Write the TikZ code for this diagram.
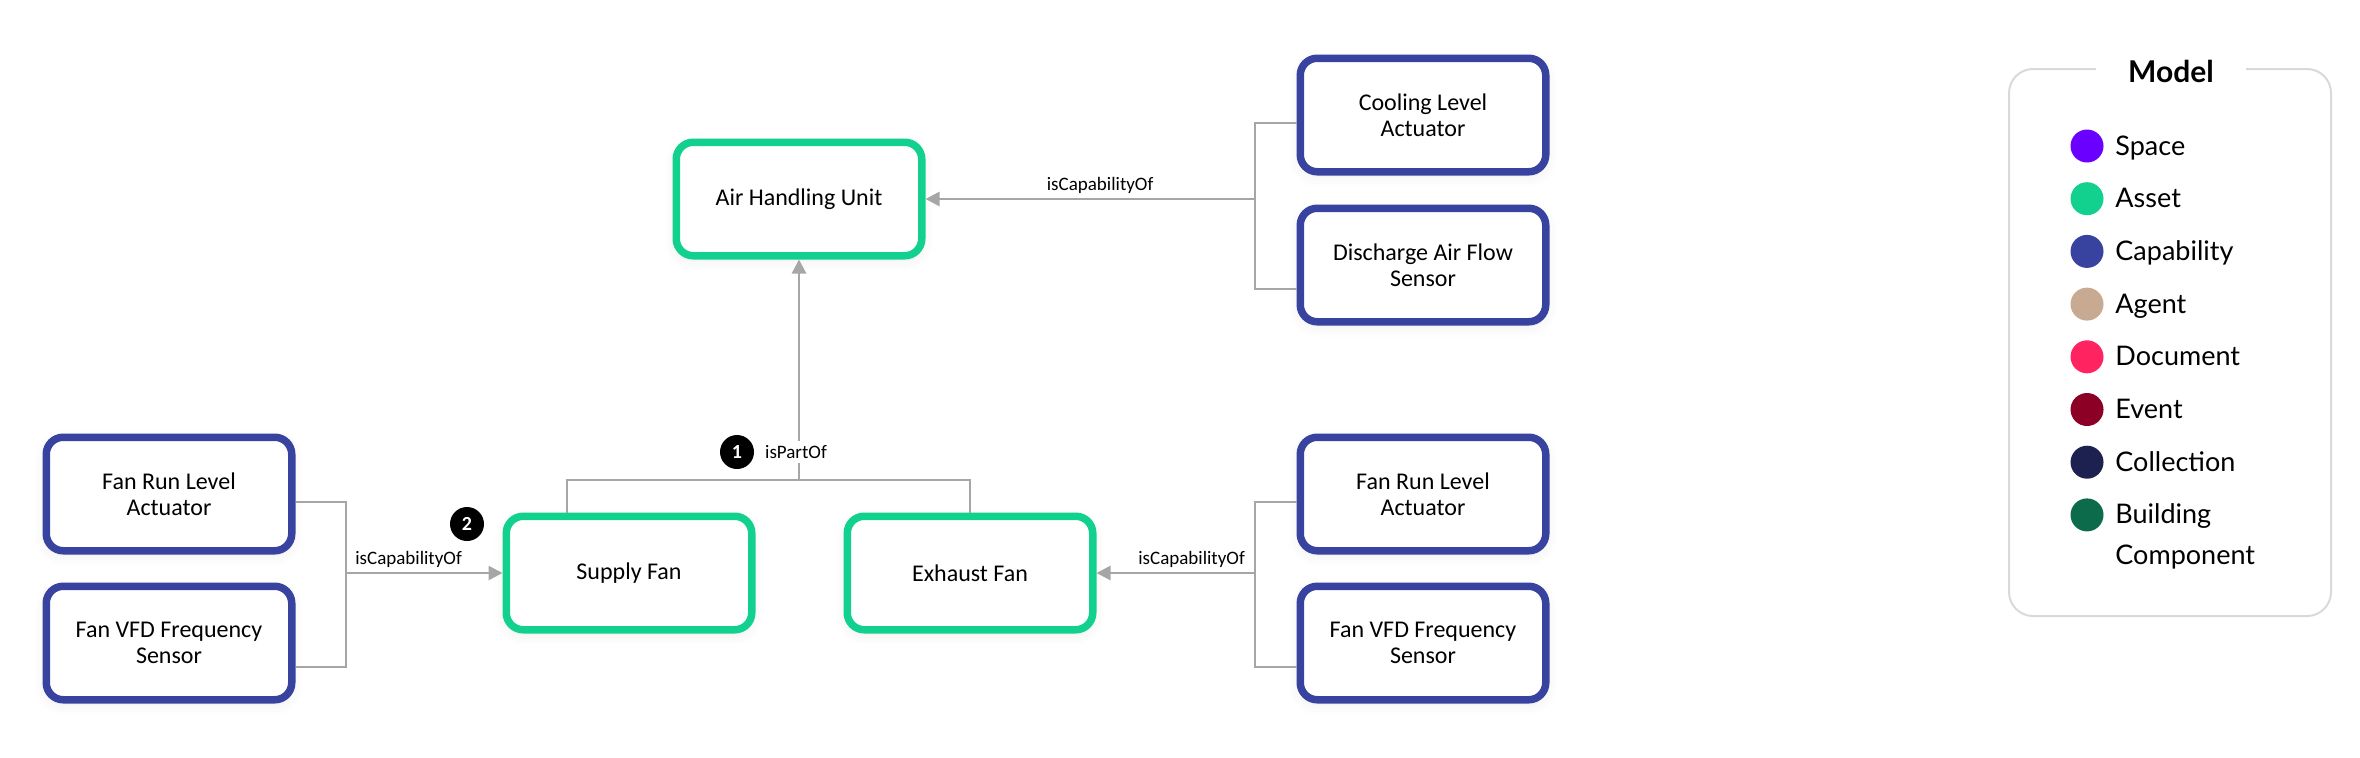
\documentclass[tikz,border=0pt]{standalone}
\usepackage{fontspec}
\setmainfont{Carlito}
\newfontfamily\legendfont{Lato}
\usetikzlibrary{arrows.meta,calc,shadows.blur}

\definecolor{assetgreen}{HTML}{12D18E}
\definecolor{capblue}{HTML}{3843A0}
\definecolor{linkgray}{HTML}{A6A6A6}
\definecolor{legborder}{HTML}{D9D9D9}
\definecolor{cspace}{HTML}{6A00FF}
\definecolor{cagent}{HTML}{C8AA93}
\definecolor{cdoc}{HTML}{FF2460}
\definecolor{cevent}{HTML}{8C0026}
\definecolor{ccoll}{HTML}{1C2150}
\definecolor{cbuild}{HTML}{0B6B4A}

\tikzset{
  box/.style={draw,fill=white,rounded corners=8.5pt,line width=3.75pt,
    minimum width=122.75pt,minimum height=56.75pt,inner sep=0pt,align=center,
    font=\fontsize{12}{13}\selectfont,
    blur shadow={shadow xshift=0pt,shadow yshift=-2pt,shadow blur radius=6pt,shadow opacity=8}},
  asset/.style={box,draw=assetgreen},
  capab/.style={box,draw=capblue},
  link/.style={draw=linkgray,line width=1.35pt},
  arr/.style={link,-{Triangle[length=7pt,width=7pt]}},
  rel/.style={font=\fontsize{9.5}{11}\selectfont,inner sep=2pt},
  badge/.style={circle,fill=black,text=white,minimum size=17pt,inner sep=0pt,
    font=\bfseries\fontsize{10}{10}\selectfont},
  dot/.style={circle,minimum size=16.5pt,inner sep=0pt},
  legtext/.style={anchor=base west,inner sep=0pt,font=\legendfont\fontsize{13.5}{15}\selectfont}
}

\begin{document}
\begin{tikzpicture}[x=0.5pt,y=-0.5pt]
  \useasboundingbox (0,0) rectangle (2360,757);

  % assets and capabilities
  \node[asset] (ahu)  at ( 799,199) {Air Handling Unit};
  \node[capab] (cool) at (1423,115) {Cooling Level\\Actuator};
  \node[capab] (dis)  at (1423,265) {Discharge Air Flow\\Sensor};
  \node[asset] (sfan) at ( 629,573) {Supply Fan};
  \node[asset] (efan) at ( 970,573) {Exhaust Fan};
  \node[capab] (lrun) at ( 169,494) {Fan Run Level\\Actuator};
  \node[capab] (lvfd) at ( 169,643) {Fan VFD Frequency\\Sensor};
  \node[capab] (rrun) at (1423,494) {Fan Run Level\\Actuator};
  \node[capab] (rvfd) at (1423,643) {Fan VFD Frequency\\Sensor};

  % relations
  \coordinate (tr) at (1255,199);
  \coordinate (lb) at ( 346,573);
  \coordinate (rb) at (1255,573);
  \coordinate (bar) at (799,480);

  \draw[link] ($(cool.west)+(0,8)$) -| (tr) |- ($(dis.west)+(0,24)$);
  \draw[arr] (tr) -- (ahu.east) node[rel,above,pos=0.47] {isCapabilityOf};

  \draw[link] ($(lrun.east)+(0,8)$) -| (lb) |- ($(lvfd.east)+(0,24)$);
  \draw[arr] (lb) -- (sfan.west) node[rel,above,pos=0.4] {isCapabilityOf};

  \draw[link] ($(rrun.west)+(0,8)$) -| (rb) |- ($(rvfd.west)+(0,24)$);
  \draw[arr] (rb) -- (efan.east) node[rel,above,pos=0.4] {isCapabilityOf};

  \draw[link] ($(sfan.north)+(-62,0)$) |- (bar) -| (efan.north);
  \draw[arr] (bar) -- (ahu.south);
  \node[rel,fill=white] (partof) at (796,452) {isPartOf};

  \node[badge] (b1) at (737,452) {1};
  \node[badge] (b2) at (467,524) {2};

  % legend
  \draw[legborder,line width=1pt,rounded corners=12pt] (2009,69) rectangle (2331,616);
  \node[fill=white,inner xsep=16pt,font=\legendfont\bfseries\fontsize{15}{15}\selectfont] (legtitle) at (2171,71) {Model};
  \foreach \lbl/\col [count=\i from 0] in {Space/cspace,Asset/assetgreen,Capability/capblue,Agent/cagent,Document/cdoc,Event/cevent,Collection/ccoll,Building/cbuild}{
    \node[dot,fill=\col] (dot\i) at (2087,{146+52.7*\i}) {};
    \node[legtext] (lbl\i) at (2115,{155+52.7*\i}) {\lbl};
  }
  \node[legtext] (lbl8) at (2115,564) {Component};
\end{tikzpicture}
\end{document}
